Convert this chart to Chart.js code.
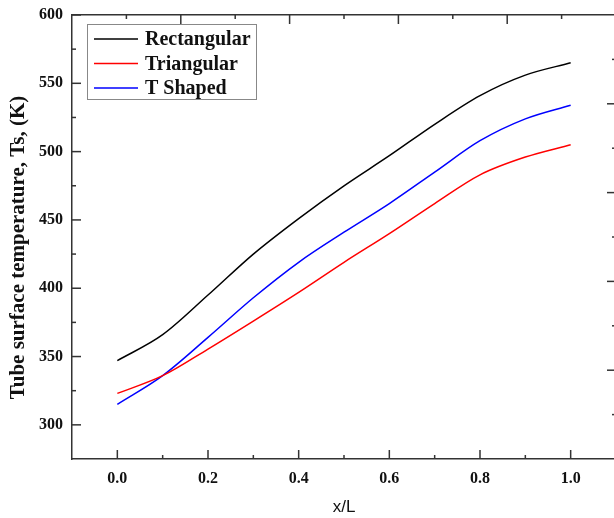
<!DOCTYPE html>
<html>
<head>
<meta charset="utf-8">
<script src="https://cdn.jsdelivr.net/npm/chart.js@4.4.1/dist/chart.umd.min.js"></script>
<style>
  html, body { margin: 0; padding: 0; background: #fff; overflow: hidden; }
  canvas { display: block; }
</style>
</head>
<body>
<canvas id="tempChart" width="620" height="518"></canvas>
<script>
// Tube surface temperature along the tube for three fin profiles
const positions = [0.0, 0.1, 0.2, 0.3, 0.4, 0.5, 0.6, 0.7, 0.8, 0.9, 1.0];
const rectangular = [347, 366, 395, 425, 451, 475, 497, 520, 541, 556, 565];
const triangular = [323, 336, 355.5, 376, 397, 419, 440, 462, 483, 496, 505];
const tShaped = [315, 336, 364, 393, 419, 441, 462, 485, 508, 524, 534];

const xMajor = [0.0, 0.2, 0.4, 0.6, 0.8, 1.0];
const xMinor = [0.1, 0.3, 0.5, 0.7, 0.9];
const yMajor = [300, 350, 400, 450, 500, 550, 600];
const yMinor = [325, 375, 425, 475, 525, 575];
// top and right frame axes carry their own unlabelled ticks
const mirrorMajor = [1, 2, 3, 4];
const mirrorMinor = [0.5, 1.5, 2.5, 3.5, 4.5];

const serifBold = (size) => ({ family: '"Liberation Serif", "Times New Roman", serif', size: size, weight: 'bold' });
const frameBorder = { display: true, color: '#333', width: 1.5 };

function toPoints(values) {
  return positions.map((p, i) => ({ x: p, y: values[i] }));
}

// tick marks pointing into the plot, long for majors, short for minors
const inwardTicks = {
  id: 'inwardTicks',
  afterDraw(chart) {
    const { ctx, chartArea: area } = chart;
    const { x, y, xTop, yRight } = chart.scales;
    ctx.save();
    ctx.strokeStyle = '#333';
    ctx.lineWidth = 1.5;
    const mark = (x1, y1, x2, y2) => {
      ctx.beginPath();
      ctx.moveTo(x1, y1);
      ctx.lineTo(x2, y2);
      ctx.stroke();
    };
    xMajor.forEach(v => { const p = x.getPixelForValue(v); mark(p, area.bottom, p, area.bottom - 9); });
    xMinor.forEach(v => { const p = x.getPixelForValue(v); mark(p, area.bottom, p, area.bottom - 4); });
    yMajor.forEach(v => { const p = y.getPixelForValue(v); mark(area.left, p, area.left + 9, p); });
    yMinor.forEach(v => { const p = y.getPixelForValue(v); mark(area.left, p, area.left + 4, p); });
    mirrorMajor.forEach(v => {
      const px = xTop.getPixelForValue(v);
      mark(px, area.top, px, area.top + 9);
      const py = yRight.getPixelForValue(v);
      mark(area.right, py, area.right - 9, py);
    });
    mirrorMinor.forEach(v => {
      const px = xTop.getPixelForValue(v);
      mark(px, area.top, px, area.top + 4);
      const py = yRight.getPixelForValue(v);
      mark(area.right, py, area.right - 4, py);
    });
    ctx.restore();
  }
};

// boxed legend in the upper left corner of the plot
const boxLegend = {
  id: 'boxLegend',
  afterDraw(chart) {
    const { ctx, chartArea: area } = chart;
    const left = area.left + 15;
    const top = area.top + 9;
    const rowH = 24.5;
    ctx.save();
    ctx.fillStyle = '#fff';
    ctx.fillRect(left, top, 170, 76);
    ctx.strokeStyle = '#888';
    ctx.lineWidth = 1;
    ctx.strokeRect(left + 0.5, top + 0.5, 169, 75);
    ctx.font = 'bold 20px "Liberation Serif", "Times New Roman", serif';
    ctx.textBaseline = 'middle';
    chart.data.datasets.forEach((ds, i) => {
      const cy = top + 15 + i * rowH;
      ctx.strokeStyle = ds.borderColor;
      ctx.lineWidth = 1.5;
      ctx.beginPath();
      ctx.moveTo(left + 7, cy);
      ctx.lineTo(left + 51, cy);
      ctx.stroke();
      ctx.fillStyle = '#111';
      ctx.fillText(ds.label, left + 58, cy + 1);
    });
    ctx.restore();
  }
};

new Chart(document.getElementById('tempChart'), {
  type: 'line',
  data: {
    datasets: [
      { label: 'Rectangular', data: toPoints(rectangular), borderColor: '#000000' },
      { label: 'Triangular', data: toPoints(triangular), borderColor: '#ff0000' },
      { label: 'T Shaped', data: toPoints(tShaped), borderColor: '#0000ff' }
    ]
  },
  options: {
    responsive: false,
    animation: false,
    devicePixelRatio: 1,
    layout: { padding: { left: 0, right: 4, top: 0, bottom: 0 } },
    elements: {
      line: { borderWidth: 1.5, cubicInterpolationMode: 'monotone', fill: false },
      point: { radius: 0, hoverRadius: 0 }
    },
    plugins: {
      legend: { display: false },
      tooltip: { enabled: false }
    },
    scales: {
      x: {
        type: 'linear',
        position: 'bottom',
        min: -0.1,
        max: 1.1,
        afterBuildTicks: (s) => { s.ticks = xMajor.map(v => ({ value: v })); },
        afterFit: (s) => { s.height = 59; s.paddingLeft = 0; s.paddingRight = 0; },
        grid: { display: false, drawTicks: false },
        border: frameBorder,
        ticks: {
          padding: 10,
          color: '#111',
          font: serifBold(16),
          callback: (v) => Number(v).toFixed(1)
        },
        title: {
          display: true,
          text: 'x/L',
          color: '#111',
          font: { family: '"Liberation Sans", Arial, sans-serif', size: 17 },
          padding: { top: 0, bottom: 0 }
        }
      },
      xTop: {
        type: 'linear',
        position: 'top',
        min: 0,
        max: 5,
        afterFit: (s) => { s.height = 15; },
        grid: { display: false, drawTicks: false },
        border: frameBorder,
        ticks: { display: false }
      },
      y: {
        type: 'linear',
        position: 'left',
        min: 275,
        max: 600,
        afterBuildTicks: (s) => { s.ticks = yMajor.map(v => ({ value: v })); },
        // fixed width, and no extra room reserved for the top label
        afterFit: (s) => { s.width = 72; s.paddingTop = 0; s.paddingBottom = 0; },
        grid: { display: false, drawTicks: false },
        border: frameBorder,
        ticks: { padding: 9, color: '#111', font: serifBold(16) },
        title: {
          display: true,
          // trailing spaces nudge the rotated title toward the bottom of the axis
          text: 'Tube surface temperature, Ts, (K)    ',
          color: '#111',
          font: serifBold(21),
          padding: { top: 6, bottom: 0 }
        }
      },
      yRight: {
        type: 'linear',
        position: 'right',
        min: 0,
        max: 5,
        afterFit: (s) => { s.width = 0; },
        grid: { display: false, drawTicks: false },
        border: frameBorder,
        ticks: { display: false }
      }
    }
  },
  plugins: [inwardTicks, boxLegend]
});
</script>
</body>
</html>
